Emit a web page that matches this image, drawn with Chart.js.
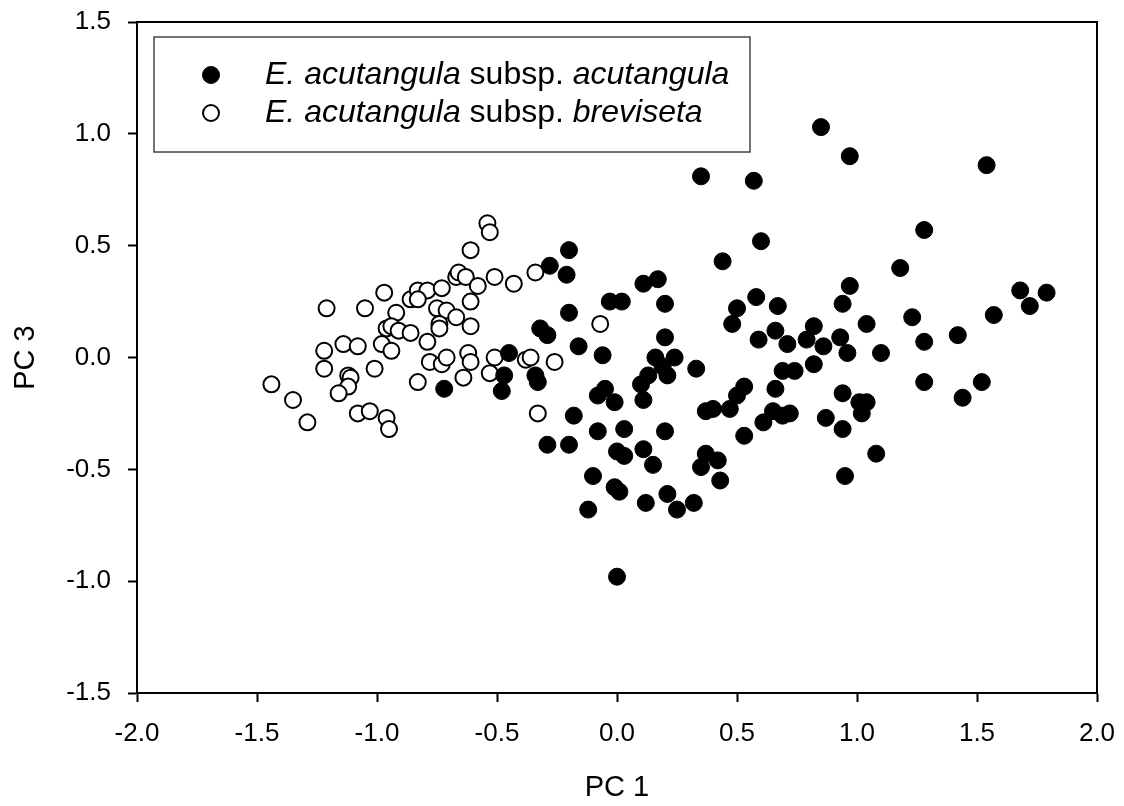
<!DOCTYPE html>
<html>
<head>
<meta charset="utf-8">
<script src="https://cdn.jsdelivr.net/npm/chart.js@4/dist/chart.umd.min.js"></script>
<style>
  html, body { margin: 0; padding: 0; background: #fff; }
  #wrap { width: 1124px; height: 806px; }
</style>
</head>
<body>
<div id="wrap"><canvas id="pca" width="1124" height="806"></canvas></div>
<script>
// E. acutangula subsp. acutangula (filled)
const acutX = [
  -0.20, -0.28, -0.21, -0.20, -0.32, -0.29, -0.16, -0.06, -0.03, 0.02,
  -0.45, -0.47, -0.48, -0.72, -0.34, -0.33, -0.18, -0.08, -0.29, -0.20,
  -0.05, 0.60, 0.44, 0.11, 0.17, 0.20, 0.58, 0.50, 0.48, 0.67,
  0.20, 0.59, 0.66, 0.16, 0.24, 0.19, 0.21, 0.33, 0.13, 0.10,
  0.11, -0.08, -0.01, 0.53, 0.50, 0.47, 0.37, 0.40, 0.66, 0.65,
  0.61, 0.03, 0.20, 0.53, 0.00, 0.03, 0.11, 0.37, 0.42, 0.35,
  0.43, 0.15, -0.10, -0.01, 0.01, 0.12, 0.21, 0.25, 0.32, -0.12,
  0.00, 0.72, 0.69, 0.87, 0.95, 0.85, 0.97, 1.54, 0.35, 0.57,
  1.28, 1.18, 0.97, 0.94, 1.68, 1.79, 1.72, 1.57, 1.23, 1.04,
  1.28, 1.42, 0.71, 0.82, 0.79, 0.86, 0.93, 0.96, 1.10, 0.82,
  0.69, 0.74, 0.94, 1.01, 1.04, 1.02, 1.28, 1.52, 1.44, 0.94,
  1.08
];
const acutY = [
  0.48, 0.41, 0.37, 0.20, 0.13, 0.10, 0.05, 0.01, 0.25, 0.25,
  0.02, -0.08, -0.15, -0.14, -0.08, -0.11, -0.26, -0.33, -0.39, -0.39,
  -0.14, 0.52, 0.43, 0.33, 0.35, 0.24, 0.27, 0.22, 0.15, 0.23,
  0.09, 0.08, 0.12, 0.00, 0.00, -0.04, -0.08, -0.05, -0.08, -0.12,
  -0.19, -0.17, -0.20, -0.13, -0.17, -0.23, -0.24, -0.23, -0.14, -0.24,
  -0.29, -0.32, -0.33, -0.35, -0.42, -0.44, -0.41, -0.43, -0.46, -0.49,
  -0.55, -0.48, -0.53, -0.58, -0.60, -0.65, -0.61, -0.68, -0.65, -0.68,
  -0.98, -0.25, -0.26, -0.27, -0.53, 1.03, 0.90, 0.86, 0.81, 0.79,
  0.57, 0.40, 0.32, 0.24, 0.30, 0.29, 0.23, 0.19, 0.18, 0.15,
  0.07, 0.10, 0.06, 0.14, 0.08, 0.05, 0.09, 0.02, 0.02, -0.03,
  -0.06, -0.06, -0.16, -0.20, -0.20, -0.25, -0.11, -0.11, -0.18, -0.32,
  -0.43
];

// E. acutangula subsp. breviseta (open)
const brevX = [
  -0.54, -0.53, -0.61, -1.21, -1.05, -0.97, -0.86, -0.83, -0.79, -0.73,
  -0.67, -0.66, -0.63, -0.58, -0.51, -0.43, -0.34, -0.61, -0.75, -0.71,
  -0.92, -0.67, -0.74, -0.74, -0.61, -0.96, -0.94, -0.91, -0.86, -0.79,
  -0.98, -0.94, -1.22, -1.14, -1.08, -0.62, -0.61, -0.78, -0.73, -0.71,
  -0.51, -0.38, -0.36, -0.26, -0.07, -1.22, -1.01, -1.12, -1.11, -1.12,
  -1.16, -0.83, -0.64, -0.53, -1.44, -1.35, -1.29, -1.08, -1.03, -0.96,
  -0.95, -0.33, -0.83
];
const brevY = [
  0.60, 0.56, 0.48, 0.22, 0.22, 0.29, 0.26, 0.30, 0.30, 0.31,
  0.36, 0.38, 0.36, 0.32, 0.36, 0.33, 0.38, 0.25, 0.22, 0.21,
  0.20, 0.18, 0.15, 0.13, 0.14, 0.13, 0.14, 0.12, 0.11, 0.07,
  0.06, 0.03, 0.03, 0.06, 0.05, 0.02, -0.02, -0.02, -0.03, 0.00,
  0.00, -0.01, 0.00, -0.02, 0.15, -0.05, -0.05, -0.08, -0.09, -0.13,
  -0.16, -0.11, -0.09, -0.07, -0.12, -0.19, -0.29, -0.25, -0.24, -0.27,
  -0.32, -0.25, 0.26
];

const xTicks = [-2.0, -1.5, -1.0, -0.5, 0.0, 0.5, 1.0, 1.5, 2.0];
const yTicks = [-1.5, -1.0, -0.5, 0.0, 0.5, 1.0, 1.5];
const xTitle = "PC 1";
const yTitle = "PC 3";

// legend rows: [italic, text] segments
const legendRows = [
  [[true, "E. acutangula"], [false, " subsp. "], [true, "acutangula"]],
  [[true, "E. acutangula"], [false, " subsp. "], [true, "breviseta"]],
];

const FONT = "'Liberation Sans', Arial, Helvetica, sans-serif";

function zip(xs, ys) {
  return xs.map((x, i) => ({ x, y: ys[i] }));
}

const filledStyle = { bg: "#000", border: "#000", width: 1, radius: 8.5 };
const openStyle = { bg: "#fff", border: "#000", width: 2, radius: 8 };

const frameAndLegend = {
  id: "frameAndLegend",
  afterDraw(chart) {
    const { ctx, chartArea: a } = chart;
    ctx.save();
    // top + right frame lines
    ctx.strokeStyle = "#000";
    ctx.lineWidth = 2;
    ctx.beginPath();
    ctx.moveTo(a.left, a.top);
    ctx.lineTo(a.right, a.top);
    ctx.lineTo(a.right, a.bottom);
    ctx.stroke();

    // legend box
    const bx = a.left + 17, by = a.top + 15, bw = 596, bh = 115;
    ctx.fillStyle = "#fff";
    ctx.fillRect(bx, by, bw, bh);
    ctx.strokeStyle = "#444";
    ctx.lineWidth = 1.5;
    ctx.strokeRect(bx, by, bw, bh);

    const styles = [filledStyle, openStyle];
    legendRows.forEach((row, i) => {
      const cy = by + 38 + i * 38;
      const st = styles[i];
      ctx.beginPath();
      ctx.arc(bx + 57, cy, st.radius, 0, Math.PI * 2);
      ctx.fillStyle = st.bg;
      ctx.fill();
      ctx.lineWidth = st.width;
      ctx.strokeStyle = st.border;
      ctx.stroke();

      let tx = bx + 111;
      ctx.fillStyle = "#000";
      ctx.textBaseline = "middle";
      ctx.textAlign = "left";
      row.forEach(([italic, txt]) => {
        ctx.font = (italic ? "italic " : "") + "32px " + FONT;
        ctx.fillText(txt, tx, cy);
        tx += ctx.measureText(txt).width;
      });
    });
    ctx.restore();
  },
};

const tickFont = { family: FONT, size: 26 };
const titleFont = { family: FONT, size: 29 };

new Chart(document.getElementById("pca"), {
  type: "scatter",
  data: {
    datasets: [
      {
        label: "E. acutangula subsp. acutangula",
        data: zip(acutX, acutY),
        backgroundColor: filledStyle.bg,
        borderColor: filledStyle.border,
        borderWidth: filledStyle.width,
        pointRadius: filledStyle.radius,
      },
      {
        label: "E. acutangula subsp. breviseta",
        data: zip(brevX, brevY),
        backgroundColor: openStyle.bg,
        borderColor: openStyle.border,
        borderWidth: openStyle.width,
        pointRadius: openStyle.radius,
      },
    ],
  },
  options: {
    responsive: false,
    animation: false,
    layout: { padding: { top: 22, right: 27, left: 0, bottom: 0 } },
    plugins: {
      legend: { display: false },
      tooltip: { enabled: false },
    },
    scales: {
      x: {
        type: "linear",
        min: xTicks[0],
        max: xTicks[xTicks.length - 1],
        afterBuildTicks: s => { s.ticks = xTicks.map(v => ({ value: v })); },
        afterFit: s => { s.height = 113; s.paddingLeft = 0; s.paddingRight = 0; },
        ticks: {
          color: "#000",
          font: tickFont,
          padding: 16,
          maxRotation: 0,
          callback: v => v.toFixed(1),
        },
        grid: { drawOnChartArea: false, tickLength: 9, tickColor: "#000", tickWidth: 2 },
        border: { color: "#000", width: 2 },
        title: { display: true, text: xTitle, color: "#000", font: titleFont, padding: { top: 0, bottom: 1 } },
      },
      y: {
        type: "linear",
        min: yTicks[0],
        max: yTicks[yTicks.length - 1],
        afterBuildTicks: s => { s.ticks = yTicks.map(v => ({ value: v })); },
        afterFit: s => { s.width = 137; s.paddingTop = 0; s.paddingBottom = 0; },
        ticks: {
          color: "#000",
          font: tickFont,
          padding: 17,
          callback: v => v.toFixed(1),
        },
        grid: { drawOnChartArea: false, tickLength: 9, tickColor: "#000", tickWidth: 2 },
        border: { color: "#000", width: 2 },
        title: { display: true, text: yTitle, color: "#000", font: titleFont, padding: { top: 9, bottom: 0 } },
      },
    },
  },
  plugins: [frameAndLegend],
});
</script>
</body>
</html>
